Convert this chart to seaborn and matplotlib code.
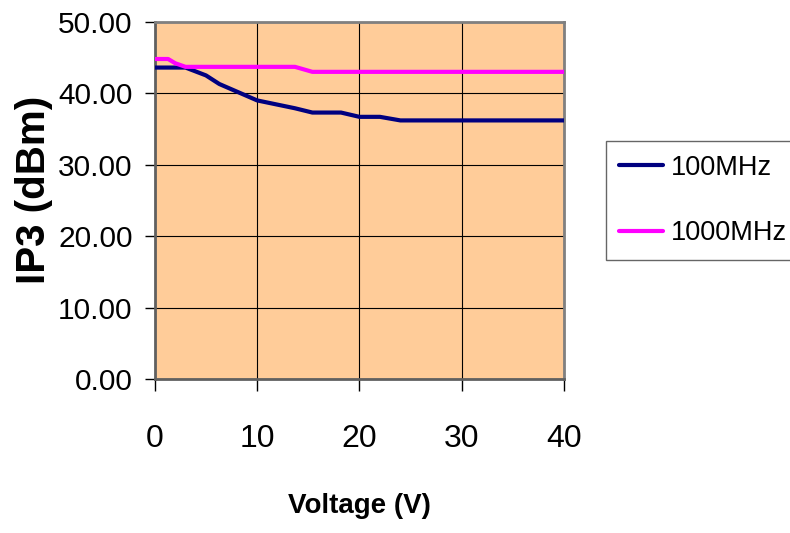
import matplotlib
matplotlib.use("Agg")
import matplotlib.pyplot as plt
import seaborn as sns
import pandas as pd

voltage = [0, 1.3, 2, 3, 5, 6.3, 10, 13.7, 15.4, 18.2, 20, 22, 24, 30, 40]
ip3_100mhz = [43.6, 43.6, 43.6, 43.6, 42.5, 41.3, 39.0, 37.9, 37.3, 37.3, 36.7, 36.7, 36.2, 36.2, 36.2]
ip3_1000mhz = [44.8, 44.8, 44.2, 43.7, 43.7, 43.7, 43.7, 43.7, 43.0, 43.0, 43.0, 43.0, 43.0, 43.0, 43.0]
series_names = ["100MHz", "1000MHz"]
x_ticks = [0, 10, 20, 30, 40]
y_ticks = [0, 10, 20, 30, 40, 50]

df = pd.DataFrame({
    "Voltage": voltage * 2,
    "IP3": ip3_100mhz + ip3_1000mhz,
    "Series": [series_names[0]] * len(voltage) + [series_names[1]] * len(voltage),
})

sns.set_theme(style="white")
plt.rcParams["font.family"] = ["Liberation Sans", "DejaVu Sans"]
for k in ["text.color", "axes.labelcolor", "xtick.color", "ytick.color"]:
    plt.rcParams[k] = "black"

fig = plt.figure(figsize=(7.9, 5.33), dpi=100)
ax = fig.add_axes([0.196, 0.289, 0.518, 0.670])
ax.set_facecolor("#FFCC99")

sns.lineplot(data=df, x="Voltage", y="IP3", hue="Series",
             palette={"100MHz": "#000080", "1000MHz": "#FF00FF"},
             linewidth=3.0, ax=ax, legend=True, zorder=3)

ax.set_xlim(0, 40)
ax.set_ylim(0, 50)
ax.set_xticks(x_ticks)
ax.set_yticks(y_ticks)
ax.set_xticklabels([str(t) for t in x_ticks], fontsize=23)
ax.set_yticklabels([f"{t:.2f}" for t in y_ticks], fontsize=21.5)
ax.grid(True, color="black", linewidth=0.8, zorder=1)
ax.set_axisbelow(True)

for s in ["top", "right"]:
    ax.spines[s].set_color("#808080")
    ax.spines[s].set_linewidth(2)
for s in ["left", "bottom"]:
    ax.spines[s].set_color("#606060")
    ax.spines[s].set_linewidth(2)

ax.tick_params(axis="x", which="both", bottom=True, length=8.6, width=1, color="black", pad=24)
ax.tick_params(axis="y", which="both", left=True, length=7, width=1, color="black", pad=9)

ax.set_xlabel("Voltage (V)", fontsize=20, fontweight="bold")
ax.xaxis.set_label_coords(0.5, -0.355)
ax.xaxis.label.set_va("center")
ax.set_ylabel("IP3 (dBm)", fontsize=29, fontweight="bold")
ax.yaxis.set_label_coords(-0.249, 0.53)

leg = ax.legend(loc="upper left", bbox_to_anchor=(0.767, 0.735), bbox_transform=fig.transFigure,
                prop={"size": 19.5}, frameon=True, fancybox=False, edgecolor="#404040",
                handlelength=1.6, handletextpad=0.3, borderpad=0.5, labelspacing=1.45,
                borderaxespad=0)
leg.get_frame().set_linewidth(1)
for line in leg.get_lines():
    line.set_linewidth(3)

fig.savefig("out.png", dpi=100)
